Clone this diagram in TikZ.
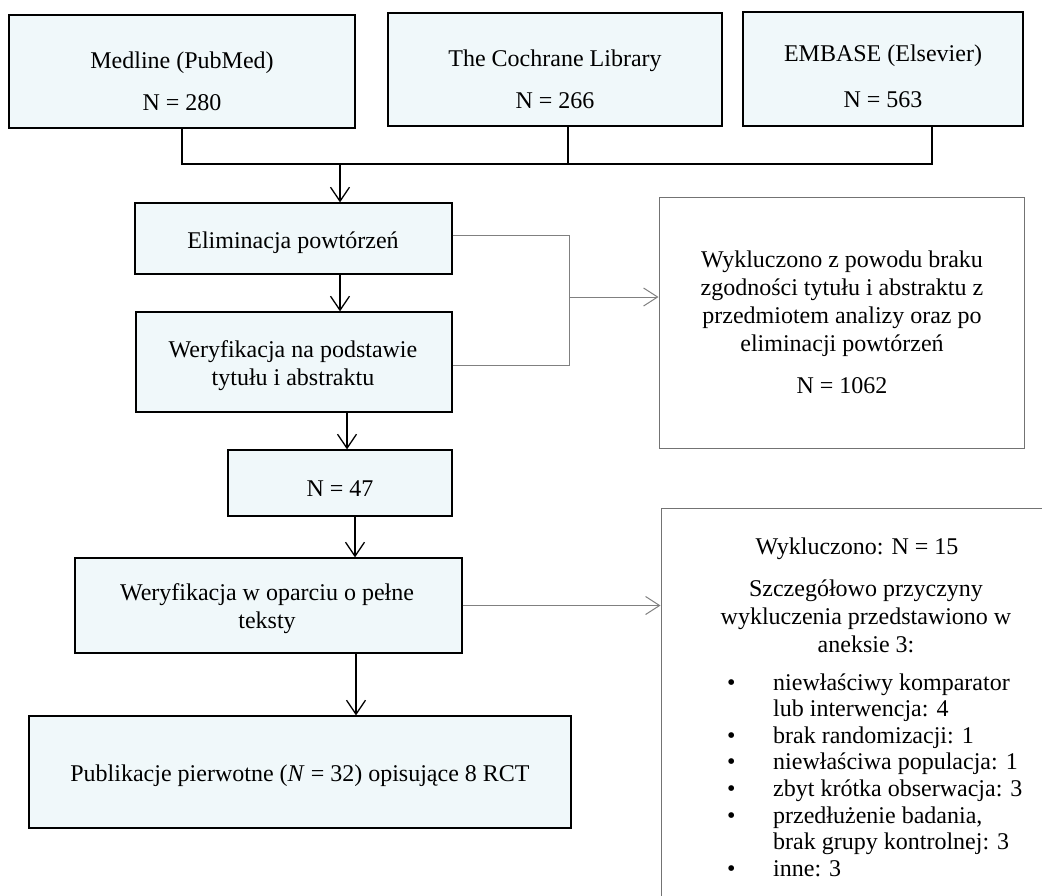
\documentclass[tikz,border=0pt]{standalone}
\usepackage{fontspec}
\setmainfont{Liberation Serif}
\usetikzlibrary{arrows.meta}
\definecolor{boxfill}{RGB}{240,248,250}
\definecolor{glinecol}{RGB}{128,128,128}
\definecolor{gboxcol}{RGB}{115,115,115}
\begin{document}
\begin{tikzpicture}[x=1pt,y=-1pt,
  font=\fontsize{24}{28}\selectfont,
  box/.style={draw=black, line width=1.3pt, fill=boxfill, inner sep=0pt},
  gbox/.style={draw=gboxcol, line width=1pt, fill=white, inner sep=0pt},
  txt/.style={align=center, inner sep=0pt},
  link/.style={draw=black, line width=1.3pt},
  arr/.style={link, -{Straight Barb[length=14pt,width=19pt]}},
  glink/.style={draw=glinecol, line width=1pt},
  garr/.style={glink, -{Straight Barb[length=14pt,width=18pt]}}]
\useasboundingbox (0,0) rectangle (1042,895);
\clip (0,0) rectangle (1042,895);
\fill[white] (0,0) rectangle (1042,895);

% source boxes
\node[box, minimum width=346pt, minimum height=113pt] (med) at (182,71.5) {};
\node[box, minimum width=334pt, minimum height=113pt] (coch) at (555,69.5) {};
\node[box, minimum width=280pt, minimum height=114pt] (emb) at (883,69) {};
\node[txt] (medt) at (182,81) {Medline (PubMed)\\[14pt]N = 280};
\node[txt] (cocht) at (555,79) {The Cochrane Library\\[14pt]N = 266};
\node[txt] (embt) at (883,76) {EMBASE (Elsevier)\\[18pt]N = 563};

% main flow
\node[box, minimum width=317pt, minimum height=71pt] (elim) at (293.5,238.5) {};
\node[txt] (elimt) at (293,243) {Eliminacja powtórzeń};
\node[box, minimum width=316pt, minimum height=100pt] (wer1) at (294,362) {};
\node[txt] (wer1t) at (293,366) {Weryfikacja na podstawie\\tytułu i abstraktu};
\node[box, minimum width=224pt, minimum height=66pt] (n47) at (340,483) {};
\node[txt] (n47t) at (340,489) {N = 47};
\node[box, minimum width=387pt, minimum height=95pt] (wer2) at (268.5,605.5) {};
\node[txt] (wer2t) at (267,609) {Weryfikacja w oparciu o pełne\\teksty};
\node[box, minimum width=542pt, minimum height=112pt] (pub) at (300,772) {};
\node[txt] (pubt) at (300,776) {Publikacje pierwotne (\textit{N} = 32) opisujące 8 RCT};

% exclusion boxes
\node[gbox, minimum width=365pt, minimum height=251pt] (ex1) at (841.5,322.5) {};
\node[txt] (ex1t) at (842,322) {Wykluczono z powodu braku\\zgodności tytułu i abstraktu z\\przedmiotem analizy oraz po\\eliminacji powtórzeń\\[14pt]N = 1062};
\node[gbox, minimum width=420pt, minimum height=420pt] (ex2) at (871,718) {};
\node[txt] (ex2a) at (857,549) {Wykluczono: N = 15};
\node[txt] (ex2b) at (866,616) {Szczegółowo przyczyny\\wykluczenia przedstawiono w\\aneksie 3:};
\node[inner sep=0pt, anchor=base west] (ex2list) at (727,690) {\def\arraystretch{0.95}%
\begin{tabular}[t]{@{}p{46pt}@{}l@{}}
\textbullet & niewłaściwy komparator\\
 & lub interwencja: 4\\
\textbullet & brak randomizacji: 1\\
\textbullet & niewłaściwa populacja: 1\\
\textbullet & zbyt krótka obserwacja: 3\\
\textbullet & przedłużenie badania,\\
 & brak grupy kontrolnej: 3\\
\textbullet & inne: 3
\end{tabular}};

% merging connector
\coordinate (jl) at (182,164);
\coordinate (jr) at (932,164);
\coordinate (jc) at (568,164);
\coordinate (ja) at (340,164);
\draw[link] (med.south) -- (jl) -- (jr) -- (jr |- emb.south);
\draw[link] (jc) -- (jc |- coch.south);
\draw[arr] (ja) -- (ja |- elim.north);

% vertical flow arrows
\coordinate (a1) at (340,0);
\coordinate (a2) at (347,0);
\coordinate (a3) at (355,0);
\coordinate (a4) at (356,0);
\draw[arr] (elim.south -| a1) -- (wer1.north -| a1);
\draw[arr] (wer1.south -| a2) -- (n47.north -| a2);
\draw[arr] (n47.south -| a3) -- (wer2.north -| a3);
\draw[arr] (wer2.south -| a4) -- (pub.north -| a4);

% grey bracket and exclusion arrows
\coordinate (b1) at (569,235);
\coordinate (b2) at (569,365);
\coordinate (b3) at (569,297);
\draw[glink] (b1 -| elim.east) -- (b1) -- (b2) -- (b2 -| wer1.east);
\draw[garr] (b3) -- (b3 -| ex1.west);
\draw[garr] (wer2.east) -- (wer2.east -| ex2.west);
\end{tikzpicture}
\end{document}
